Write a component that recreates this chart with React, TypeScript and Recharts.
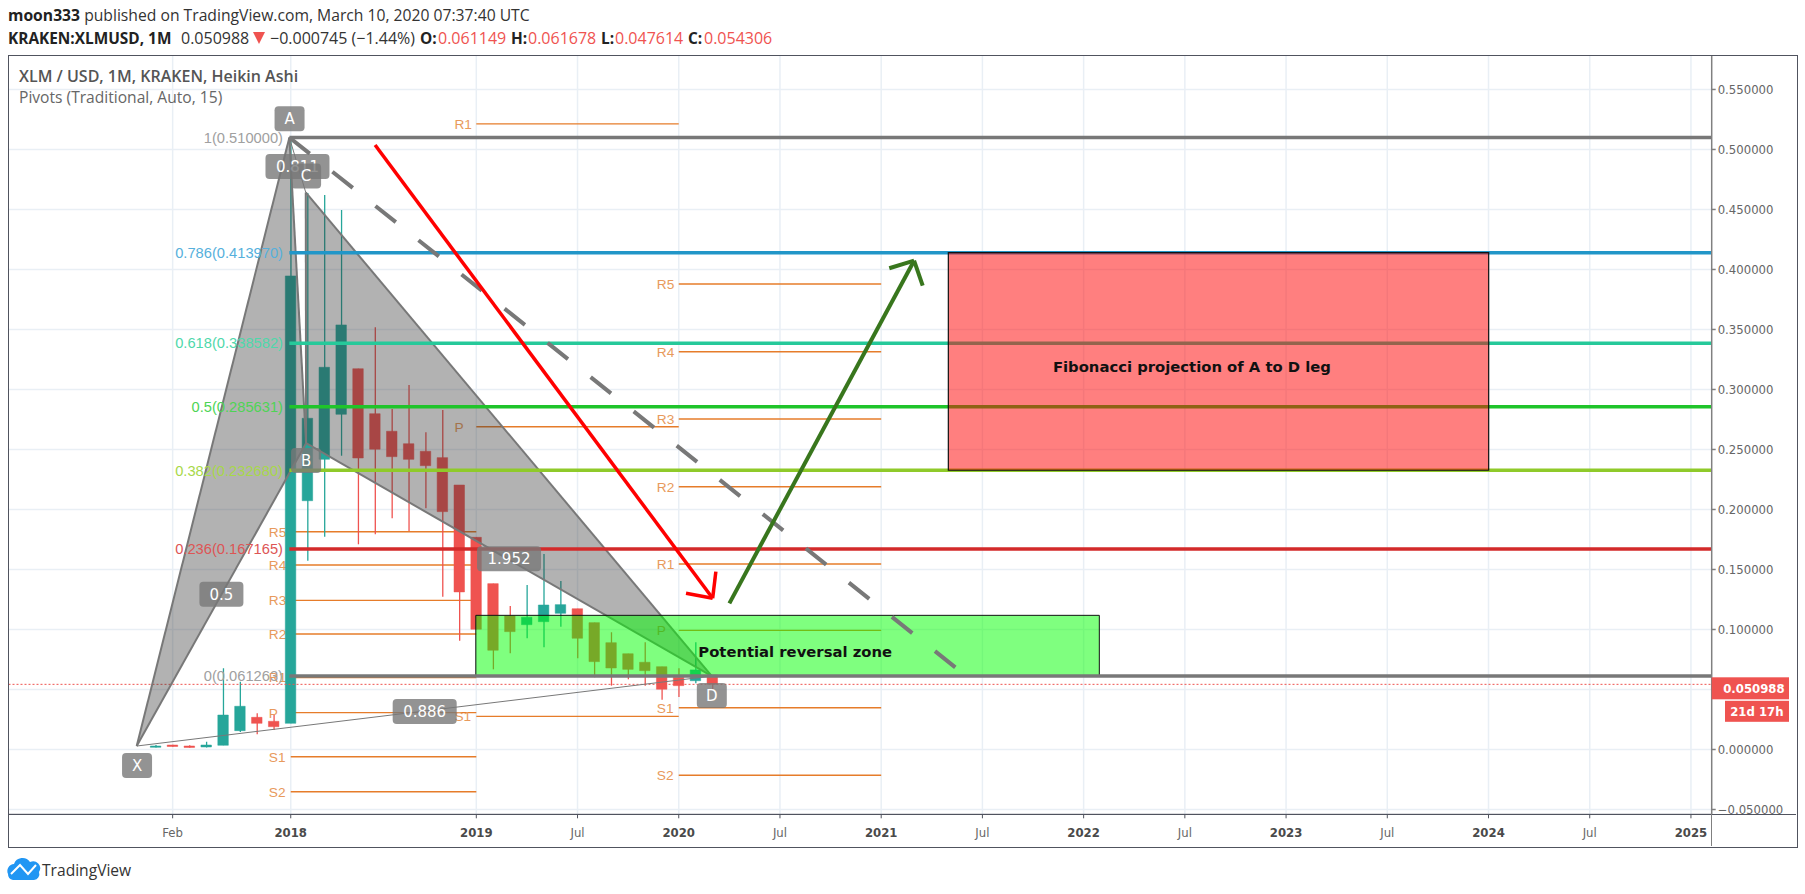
import {
  Bar,
  CartesianGrid,
  Cell,
  ComposedChart,
  ReferenceArea,
  ReferenceDot,
  ReferenceLine,
  XAxis,
  YAxis,
} from "recharts";

// bar index 0 = Jan 2018, one step per month
const barIndex = [-8, -7, -6, -5, -4, -3, -2, -1, 0, 1, 2, 3, 4, 5, 6, 7, 8, 9, 10, 11, 12, 13, 14, 15, 16, 17, 18, 19, 20, 21, 22, 23, 24, 25];
const bodyTop = [0.0029, 0.0037, 0.0029, 0.0037, 0.0287, 0.036, 0.0268, 0.0235, 0.3946, 0.276, 0.3185, 0.3538, 0.3173, 0.2798, 0.2652, 0.2548, 0.2485, 0.2432, 0.2204, 0.1768, 0.1382, 0.1113, 0.1102, 0.1204, 0.1207, 0.1173, 0.1057, 0.089, 0.0798, 0.0727, 0.069, 0.0602, 0.0663, 0.0621];
const bodyBottom = [0.0018, 0.0025, 0.0017, 0.0021, 0.0035, 0.0157, 0.0218, 0.019, 0.0218, 0.2073, 0.2418, 0.2793, 0.2429, 0.2502, 0.244, 0.2418, 0.2365, 0.1982, 0.1313, 0.1002, 0.0827, 0.0982, 0.104, 0.1065, 0.1135, 0.0927, 0.0732, 0.0679, 0.0668, 0.0657, 0.0502, 0.0532, 0.0573, 0.0543];
const wickHigh = [0.0037, 0.004, 0.0035, 0.0065, 0.0677, 0.0565, 0.0302, 0.0288, 0.5096, 0.4637, 0.4621, 0.4496, 0.3173, 0.3518, 0.2838, 0.3038, 0.2643, 0.2829, 0.2204, 0.1768, 0.1382, 0.1196, 0.1371, 0.1629, 0.1404, 0.1173, 0.1057, 0.0977, 0.0798, 0.0893, 0.069, 0.0677, 0.0893, 0.0621];
const wickLow = [0.0017, 0.0022, 0.0015, 0.0017, 0.0035, 0.0146, 0.0127, 0.0163, 0.0218, 0.1573, 0.1773, 0.2448, 0.171, 0.1793, 0.1927, 0.1821, 0.201, 0.1273, 0.0907, 0.1002, 0.0668, 0.0802, 0.0927, 0.0852, 0.1023, 0.076, 0.0602, 0.0532, 0.0585, 0.0532, 0.0415, 0.0438, 0.0552, 0.0496];
const isUp = [1, 0, 0, 1, 1, 1, 0, 0, 1, 1, 1, 1, 0, 0, 0, 0, 0, 0, 0, 0, 0, 0, 1, 1, 1, 0, 0, 0, 0, 0, 0, 0, 1, 0];

const priceTicks = [-0.05, 0, 0.05, 0.1, 0.15, 0.2, 0.25, 0.3, 0.35, 0.4, 0.45, 0.5, 0.55];
const timeTicks = [-7, 0, 11, 17, 23, 29, 35, 41, 47, 53, 59, 65, 71, 77, 83];
const timeLabels = ["Feb", "2018", "2019", "Jul", "2020", "Jul", "2021", "Jul", "2022", "Jul", "2023", "Jul", "2024", "Jul", "2025"];

const fibRatios = ["1", "0.786", "0.618", "0.5", "0.382", "0.236", "0"];
const fibPrices = [0.51, 0.41397, 0.338582, 0.285631, 0.23268, 0.167165, 0.061263];
const fibColors = ["#787878", "#2196c8", "#26c99a", "#1fc42a", "#8fca2a", "#d32a2a", "#787878"];
const fibLabelColors = ["#a0a0a0", "#56b0dc", "#4fd8ab", "#4ed455", "#a8d84a", "#dd5555", "#a0a0a0"];

const pivotNames1 = ["R5", "R4", "R3", "R2", "R1", "P", "S1", "S2"];
const pivotValues1 = [0.1815, 0.1538, 0.1243, 0.0963, 0.06, 0.0307, -0.006, -0.0352];
const pivotNames2 = ["R1", "P", "S1"];
const pivotValues2 = [0.5213, 0.269, 0.0276];
const pivotNames3 = ["R5", "R4", "R3", "R2", "R1", "P", "S1", "S2"];
const pivotValues3 = [0.3879, 0.3315, 0.2754, 0.219, 0.1546, 0.0993, 0.0348, -0.0215];

// harmonic pattern points [bar, price]
const ptX = [-9.13, 0.0029];
const ptA = [-0.08, 0.51];
const ptB = [0.91, 0.2552];
const ptC = [0.89, 0.4642];
const ptD = [24.96, 0.0612];

const dashedEnd = [39.41, 0.0683];
const redArrow = [[5.0, 0.5037], [25.01, 0.126], [23.43, 0.1302], [25.2, 0.1482]];
const greenArrow = [[26.0, 0.1218], [36.95, 0.4073], [35.48, 0.401], [37.46, 0.3865]];

const noteText = ["A", "0.811", "C", "B", "0.5", "0.886", "1.952", "X", "D"];
const noteBar = [-0.07, 0.4, 0.91, 0.91, -4.11, 7.94, 12.94, -9.11, 24.96];
const notePrice = [0.5256, 0.4858, 0.4779, 0.2408, 0.1293, 0.0317, 0.159, -0.0133, 0.045];

const lastPrice = 0.050988;
const haClose = 0.0543;

const X_MIN = -16.73;
const X_MAX = 84.23;
const UI_FONT = '"Open Sans", sans-serif';
const LABEL_FONT = '"Liberation Sans", Arial, sans-serif';
const AXIS_FONT = '"DejaVu Sans", sans-serif';

const candles = barIndex.map((bar, i) => ({
  bar,
  body: [bodyBottom[i], bodyTop[i]],
  wick: [wickLow[i], wickHigh[i]],
  up: isUp[i],
}));

const upColor = "#26a69a";
const downColor = "#ef5350";

function triangle(points: number[][]) {
  const xs = points.map((p) => p[0]);
  const ys = points.map((p) => p[1]);
  const x1 = Math.min(...xs);
  const x2 = Math.max(...xs);
  const y1 = Math.min(...ys);
  const y2 = Math.max(...ys);
  return (
    <ReferenceArea
      x1={x1}
      x2={x2}
      y1={y1}
      y2={y2}
      zIndex={400}
      ifOverflow="visible"
      shape={(p: any) => {
        const pts = points
          .map(([a, b]) => `${p.x + ((a - x1) / (x2 - x1)) * p.width},${p.y + ((y2 - b) / (y2 - y1)) * p.height}`)
          .join(" ");
        return <polygon points={pts} fill="rgb(50,50,50)" fillOpacity={0.375} />;
      }}
    />
  );
}

function seg(a: number[], b: number[], stroke: string, width: number, zIndex: number, dash?: string, opacity?: number) {
  return (
    <ReferenceLine
      segment={[{ x: a[0], y: a[1] }, { x: b[0], y: b[1] }]}
      stroke={stroke}
      strokeWidth={width}
      strokeDasharray={dash}
      strokeOpacity={opacity}
      ifOverflow="visible"
      zIndex={zIndex}
    />
  );
}

function textAt(x: number, y: number, text: string, fill: string, anchor: string, zIndex: number, size = 13.7, font = LABEL_FONT, weight = 400) {
  return (
    <ReferenceDot
      x={x}
      y={y}
      r={0}
      ifOverflow="visible"
      zIndex={zIndex}
      shape={(p: any) => (
        <text x={p.cx} y={p.cy} dy="0.36em" textAnchor={anchor as any} fill={fill} fontFamily={font} fontSize={size} fontWeight={weight}>
          {text}
        </text>
      )}
    />
  );
}

function noteBox(i: number) {
  const t = noteText[i];
  const w = t.length > 3 ? 64 : t.length > 1 ? 44 : 30;
  return (
    <ReferenceDot
      key={i}
      x={noteBar[i]}
      y={notePrice[i]}
      r={0}
      ifOverflow="visible"
      zIndex={600}
      shape={(p: any) => (
        <g>
          <rect x={p.cx - w / 2} y={p.cy - 12.5} width={w} height={25} rx={4} fill="#787878" fillOpacity={0.8} />
          <text x={p.cx} y={p.cy} dy="0.36em" textAnchor="middle" fill="#fff" fontFamily={AXIS_FONT} fontSize={15}>
            {t}
          </text>
        </g>
      )}
    />
  );
}

function pivotGroup(names: string[], values: number[], from: number, to: number) {
  return names.map((name, i) => (
    <g key={`${from}-${name}`}>
      {seg([from, values[i]], [to, values[i]], "#e67c2a", 1.4, 100)}
      {textAt(from - 1.3, values[i], name, "#e89a5c", "start", 100)}
    </g>
  ));
}

function TimeTick(props: any) {
  const i = timeTicks.indexOf(props.payload.value);
  const label = timeLabels[i];
  const bold = label !== "Jul" && label !== "Feb";
  return (
    <text x={props.x} y={833} dy="0.36em" textAnchor="middle" fill={bold ? "#4a4a4a" : "#666"} fontFamily={AXIS_FONT} fontSize={11.7} fontWeight={bold ? 700 : 400}>
      {label}
    </text>
  );
}

function Header() {
  const line2 = { position: "absolute" as const, top: 28, whiteSpace: "nowrap" as const, fontFamily: UI_FONT, fontSize: 16, lineHeight: "21px", color: "#333" };
  const red = { ...line2, color: "#ef5350" };
  const bold = { ...line2, fontWeight: 700, fontSize: 15.4, color: "#222" };
  return (
    <>
      <div style={{ position: "absolute", left: 8, top: 5, whiteSpace: "nowrap", fontFamily: UI_FONT, fontSize: 15.7, lineHeight: "21px", color: "#333" }}>
        <b style={{ color: "#222" }}>moon333</b> published on TradingView.com, March 10, 2020 07:37:40 UTC
      </div>
      <span style={{ ...bold, left: 8 }}>KRAKEN:XLMUSD, 1M</span>
      <span style={{ ...line2, left: 181 }}>0.050988</span>
      <svg style={{ position: "absolute", left: 253, top: 31 }} width={12} height={14}>
        <polygon points="0,1 12,1 6,13" fill="#ef5350" />
      </svg>
      <span style={{ ...line2, left: 270 }}>−0.000745 (−1.44%)</span>
      <span style={{ ...bold, left: 420 }}>O:</span>
      <span style={{ ...red, left: 438 }}>0.061149</span>
      <span style={{ ...bold, left: 511 }}>H:</span>
      <span style={{ ...red, left: 528 }}>0.061678</span>
      <span style={{ ...bold, left: 601 }}>L:</span>
      <span style={{ ...red, left: 615 }}>0.047614</span>
      <span style={{ ...bold, left: 688 }}>C:</span>
      <span style={{ ...red, left: 704 }}>0.054306</span>
      <div style={{ position: "absolute", left: 19, top: 66, whiteSpace: "nowrap", fontFamily: UI_FONT, fontWeight: 600, fontSize: 16, lineHeight: "21px", color: "#555" }}>
        XLM / USD, 1M, KRAKEN, Heikin Ashi
      </div>
      <div style={{ position: "absolute", left: 19, top: 87, whiteSpace: "nowrap", fontFamily: UI_FONT, fontSize: 15.6, lineHeight: "21px", color: "#666" }}>
        Pivots (Traditional, Auto, 15)
      </div>
    </>
  );
}

function Logo() {
  return (
    <svg style={{ position: "absolute", left: 0, top: 850 }} width={160} height={44}>
      <path d="M8 24 a7 7 0 0 1 6 -10 a9 9 0 0 1 16 -2 a7 7 0 0 1 9 10 a6 6 0 0 1 -5 8 h-21 a6 6 0 0 1 -5 -6z" fill="#2196f3" />
      <path d="M11 24 L20 15 L28 24 L36 15" fill="none" stroke="#fff" strokeWidth={2} />
      <text x={42} y={26} fontFamily={UI_FONT} fontSize={15.6} fill="#333">TradingView</text>
    </svg>
  );
}

export default function App() {
  return (
    <div style={{ position: "fixed", left: 0, top: 0, width: 1805, height: 894, background: "#fff" }}>
      <ComposedChart
        width={1805}
        height={894}
        data={candles}
        margin={{ top: 55.5, right: 8.3, bottom: 47, left: 8.5 }}
      >
        <CartesianGrid stroke="#e9eff5" strokeWidth={1.5} horizontalValues={priceTicks} verticalValues={timeTicks} />
        <XAxis
          dataKey="bar"
          type="number"
          domain={[X_MIN, X_MAX]}
          allowDataOverflow
          ticks={timeTicks}
          interval={0}
          height={32.7}
          tickSize={4}
          tick={<TimeTick />}
          stroke="#50535e"
        />
        <XAxis xAxisId="wick" dataKey="bar" type="number" domain={[X_MIN, X_MAX]} allowDataOverflow hide />
        <YAxis
          orientation="right"
          type="number"
          domain={[-0.054, 0.5783]}
          allowDataOverflow
          ticks={priceTicks}
          interval={0}
          width={85}
          tickSize={4}
          tickFormatter={(v: number) => (v === 0.05 ? "" : v < 0 ? "−" + Math.abs(v).toFixed(6) : v.toFixed(6))}
          tick={{ fill: "#666", fontFamily: AXIS_FONT, fontSize: 11.7 }}
          stroke="#808080"
          strokeWidth={1.5}
        />

        {pivotGroup(pivotNames1, pivotValues1, 0, 11)}
        {pivotGroup(pivotNames2, pivotValues2, 11, 23)}
        {pivotGroup(pivotNames3, pivotValues3, 23, 35)}

        <Bar xAxisId="wick" dataKey="wick" barSize={1.3} isAnimationActive={false} zIndex={300}>
          {candles.map((c) => (
            <Cell key={c.bar} fill={c.up ? upColor : downColor} />
          ))}
        </Bar>
        <Bar dataKey="body" barSize={10.5} isAnimationActive={false} zIndex={310}>
          {candles.map((c) => (
            <Cell
              key={c.bar}
              fill={c.up ? upColor : downColor}
              stroke={c.up ? upColor : downColor}
              strokeOpacity={0.5}
            />
          ))}
        </Bar>

        {seg([X_MIN, haClose], [X_MAX, haClose], "#ef5350", 1, 340, "2 2")}

        {triangle([ptX, ptA, ptB])}
        {triangle([ptB, ptC, ptD])}
        {seg(ptX, ptA, "#787878", 2, 410)}
        {seg(ptA, ptB, "#787878", 2, 410)}
        {seg(ptX, ptB, "#787878", 2, 410)}
        {seg(ptB, ptC, "#787878", 2, 410)}
        {seg(ptC, ptD, "#787878", 2, 410)}
        {seg(ptB, ptD, "#787878", 2, 410)}
        {seg(ptX, ptD, "#787878", 1, 410)}
        {seg(ptA, ptC, "#787878", 1, 410)}

        <ReferenceArea x1={10.97} x2={47.93} y1={0.0612} y2={0.1118} fill="#00ff00" fillOpacity={0.5} stroke="#111" strokeWidth={1} ifOverflow="visible" zIndex={420} />

        {fibPrices.map((price, i) => (
          <g key={price}>
            {seg([ptA[0], price], [X_MAX, price], fibColors[i], 3.5, 430)}
            {textAt(-0.46, price, `${fibRatios[i]}(${price.toFixed(6)})`, fibLabelColors[i], "end", 430, 14.7)}
          </g>
        ))}

        <ReferenceArea x1={38.98} x2={71.01} y1={0.2327} y2={0.414} fill="#ff0000" fillOpacity={0.5} stroke="#111" strokeWidth={1.2} ifOverflow="visible" zIndex={440} />

        {seg(ptA, dashedEnd, "#787878", 4, 450, "26 29")}
        {seg(redArrow[0], redArrow[1], "#ff0000", 3.5, 460)}
        {seg(redArrow[1], redArrow[2], "#ff0000", 3.5, 460)}
        {seg(redArrow[1], redArrow[3], "#ff0000", 3.5, 460)}
        {seg(greenArrow[0], greenArrow[1], "#38761d", 4, 460)}
        {seg(greenArrow[1], greenArrow[2], "#38761d", 4, 460)}
        {seg(greenArrow[1], greenArrow[3], "#38761d", 4, 460)}

        {noteText.map((_, i) => noteBox(i))}

        {textAt(24.16, 0.0819, "Potential reversal zone", "#111", "start", 650, 14.8, AXIS_FONT, 700)}
        {textAt(45.18, 0.319, "Fibonacci projection of A to D leg", "#111", "start", 650, 14.8, AXIS_FONT, 700)}

        <ReferenceDot
          x={X_MAX}
          y={lastPrice}
          r={0}
          ifOverflow="visible"
          zIndex={700}
          shape={(p: any) => (
            <g fontFamily={AXIS_FONT} fontSize={11.7} fontWeight={700} fill="#fff">
              <rect x={p.cx} y={p.cy - 11} width={77.3} height={22} fill="#ef5350" />
              <text x={p.cx + 11.5} y={p.cy} dy="0.36em">{lastPrice.toFixed(6)}</text>
              <rect x={p.cx + 13.3} y={p.cy + 12.5} width={64} height={21} fill="#ef5350" />
              <text x={p.cx + 18.5} y={p.cy + 23} dy="0.36em">21d 17h</text>
            </g>
          )}
        />
      </ComposedChart>
      <div style={{ position: "absolute", left: 1713, top: 815, width: 83, height: 31, background: "#fff" }} />
      <div style={{ position: "absolute", left: 8, top: 814, width: 1788, height: 0, borderTop: "1px solid #50535e" }} />
      <div style={{ position: "absolute", left: 1711, top: 814, width: 0, height: 32, borderLeft: "1.5px solid #808080" }} />
      <div style={{ position: "absolute", left: 8, top: 55, width: 1788, height: 791, border: "1px solid #50535e", pointerEvents: "none" }} />
      <Header />
      <Logo />
    </div>
  );
}
